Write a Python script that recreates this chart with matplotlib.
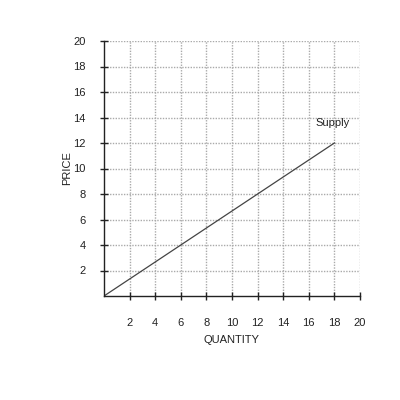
import matplotlib
matplotlib.use("Agg")
import matplotlib.pyplot as plt

plt.rcParams['font.family'] = ['Liberation Sans', 'DejaVu Sans']

supply_q = [0, 18]
supply_p = [0, 12]
x_ticks = [2, 4, 6, 8, 10, 12, 14, 16, 18, 20]
y_ticks = [2, 4, 6, 8, 10, 12, 14, 16, 18, 20]

fig = plt.figure(figsize=(4, 4), dpi=100)
ax = fig.add_axes([104/400, 1 - 296/400, 256/400, 255/400])
ax.plot(supply_q, supply_p, color='#444444', lw=0.9)
ax.text(16.5, 13.6, 'Supply', fontsize=8, color='#222222', va='center', ha='left')

ax.set_xlim(0, 20)
ax.set_ylim(0, 20)
ax.set_xticks(x_ticks)
ax.set_yticks(y_ticks)
ax.grid(True, color='#aaaaaa', linestyle=(0, (1, 1)), lw=1.0)
for s in ['top', 'right']:
    ax.spines[s].set_visible(False)
for s in ['left', 'bottom']:
    ax.spines[s].set_color('#222222')
    ax.spines[s].set_linewidth(1.0)
ax.tick_params(axis='x', direction='inout', length=6, width=1, pad=13, labelsize=8, colors='#222222')
ax.tick_params(axis='y', direction='inout', length=6, width=1, pad=10, labelsize=8, colors='#222222')
ax.set_xlabel('QUANTITY', fontsize=8, color='#222222', labelpad=5)
ax.set_ylabel('PRICE', fontsize=8, color='#222222', labelpad=1)
fig.savefig('out.png', dpi=100, facecolor='white')
